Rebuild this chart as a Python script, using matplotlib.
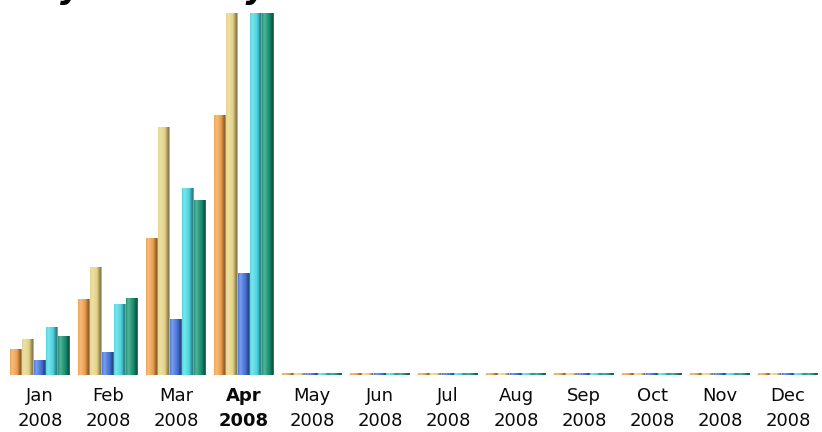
import numpy as np
import matplotlib
matplotlib.use("Agg")
import matplotlib.pyplot as plt
from matplotlib.colors import to_rgb

# ---- data ----
months = ["Jan", "Feb", "Mar", "Apr", "May", "Jun", "Jul", "Aug", "Sep", "Oct", "Nov", "Dec"]
year_labels = ["2008"] * 12
current_month = "Apr"
unique_visitors = [104, 304, 545, 1041, 0, 0, 0, 0, 0, 0, 0, 0]
visits = [144, 429, 993, 1450, 0, 0, 0, 0, 0, 0, 0, 0]
pages = [333, 523, 1330, 2423, 0, 0, 0, 0, 0, 0, 0, 0]
hits = [1140, 1663, 4419, 8600, 0, 0, 0, 0, 0, 0, 0, 0]
bandwidth_mb = [12.6, 25.2, 57.7, 120.0, 0, 0, 0, 0, 0, 0, 0, 0]

W, H = 822, 432
fig = plt.figure(figsize=(W / 100, H / 100), dpi=100)
fig.patch.set_facecolor("white")

# axes: month slots 68 px wide starting at x=6, baseline at y=375, top at y=13
ax = fig.add_axes([6 / W, 57 / H, 816 / W, 362 / H])
ax.set_xlim(-0.5, 11.5)
ax.set_ylim(0, 1)
ax.axis("off")

# scales as in the original: visitors/visits share the visits max, pages/hits share hits max
vmax = max(visits)
hmax = max(hits)
bmax = max(bandwidth_mb)
series = [
    (np.array(unique_visitors) / vmax, "#F0A352"),
    (np.array(visits) / vmax, "#E6D488"),
    (np.array(pages) / hmax, "#4C7AE0"),
    (np.array(hits) / hmax, "#4FD8E2"),
    (np.array(bandwidth_mb) / bmax, "#1C9676"),
]

bar_w = 12 / 68
min_h = 2 / 362
profile = np.array([0.05, 0.18, 0.24, 0.2, 0.12, 0.05, 0.0, -0.08, -0.18, -0.32, -0.4, -0.15])


def shaded(color):
    c = np.array(to_rgb(color))
    rows = []
    for f in profile:
        if f >= 0:
            rows.append(c + (1 - c) * f)
        else:
            rows.append(c * (1 + f))
    return np.clip(np.array(rows), 0, 1)[None, :, :]


for k, (vals, col) in enumerate(series):
    img = shaded(col)
    for i, v in enumerate(vals):
        h = max(v, min_h)
        x0 = i + (k - 2.5) * bar_w
        ax.imshow(img, extent=[x0, x0 + bar_w, 0, h], aspect="auto",
                  interpolation="bilinear", zorder=2)
ax.set_xlim(-0.5, 11.5)
ax.set_ylim(0, 1)

# month labels
for i, (m, y) in enumerate(zip(months, year_labels)):
    bold = m == current_month
    ax.text(i, -12 / 362, f"{m}\n{y}", ha="center", va="top",
            fontsize=13, linespacing=1.5, family="DejaVu Sans",
            weight="bold" if bold else "normal", color="#0a0a0a",
            clip_on=False)

# clipped title at the very top (only the bottom edge of it is visible)
fig.text(-68 / W, 1.0 + 2 / H, "Monthly Summary", fontsize=23.5, weight="bold",
         style="italic", va="baseline", ha="left", color="black")

fig.savefig("out.png", dpi=100, facecolor="white")
